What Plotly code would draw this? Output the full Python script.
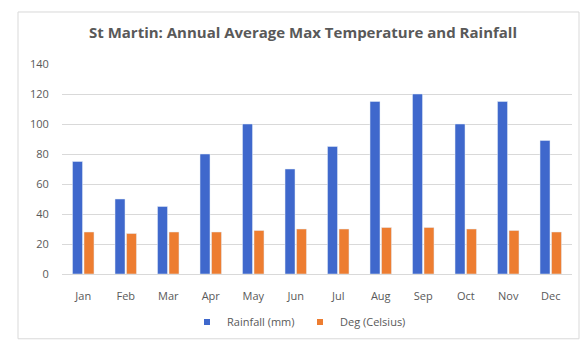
import plotly.graph_objects as go

months = ["Jan", "Feb", "Mar", "Apr", "May", "Jun", "Jul", "Aug", "Sep", "Oct", "Nov", "Dec"]
rainfall_mm = [75, 50, 45, 80, 100, 70, 85, 115, 120, 100, 115, 89]
temp_celsius = [28, 27, 28, 28, 29, 30, 30, 31, 31, 30, 29, 28]
y_ticks = [0, 20, 40, 60, 80, 100, 120, 140]

font_family = "Open Sans, Liberation Sans, sans-serif"
grey = "#595959"
blue = "#3F68CC"
orange = "#ED7D31"

# page body has an 8px margin; work in reference pixel coordinates minus 8
OFF = 8
W, H = 588 - 2 * OFF, 353 - 2 * OFF
L, T = 62 - OFF, 64 - OFF
R = W - (572 - OFF)
B = H - (278 - OFF)
pw, ph = W - L - R, H - T - B

def px(x):
    return (x - OFF - L) / pw

def py(y):
    return (H - B - (y - OFF)) / ph

fig = go.Figure()
fig.add_trace(go.Bar(x=months, y=rainfall_mm, name="Rainfall (mm)", marker_color=blue,
                     showlegend=False))
fig.add_trace(go.Bar(x=months, y=temp_celsius, name="Deg (Celsius)", marker_color=orange,
                     showlegend=False))
# legend entries with small square markers
fig.add_trace(go.Scatter(x=[None], y=[None], mode="markers", name="Rainfall (mm)",
                         marker=dict(symbol="square", size=6, color=blue)))
fig.add_trace(go.Scatter(x=[None], y=[None], mode="markers", name="Deg (Celsius)",
                         marker=dict(symbol="square", size=6, color=orange)))

fig.add_shape(type="rect", xref="paper", yref="paper",
              x0=px(18), x1=px(579), y0=py(344), y1=py(11),
              line=dict(color="#D9D9D9", width=1), fillcolor="rgba(0,0,0,0)", layer="below")

fig.update_layout(
    width=W, height=H,
    margin=dict(l=L, r=R, t=T, b=B),
    paper_bgcolor="white", plot_bgcolor="white",
    barmode="group", bargap=0.46, bargroupgap=0.13,
    title=dict(text="<b>St Martin: Annual Average Max Temperature and Rainfall</b>",
               x=(303 - OFF) / W, xanchor="center", y=1 - (33 - OFF) / H, yanchor="middle",
               font=dict(family=font_family, size=15, color=grey)),
    font=dict(family=font_family, color=grey, size=11),
    legend=dict(orientation="h", x=px(300), xanchor="center", y=py(327), yanchor="middle",
                font=dict(size=11, color=grey), itemwidth=30, traceorder="normal",
                entrywidth=68, entrywidthmode="pixels"),
    xaxis=dict(showgrid=False, showline=True, linecolor="#D9D9D9", linewidth=1,
               ticks="outside", ticklen=12, tickcolor="rgba(0,0,0,0)",
               tickfont=dict(size=11, color=grey)),
    yaxis=dict(range=[0, 140], tickvals=y_ticks, showgrid=True, gridcolor="#D9D9D9",
               zeroline=False, showline=False, ticks="outside", ticklen=10,
               tickcolor="rgba(0,0,0,0)", tickfont=dict(size=11, color=grey)),
)

fig.write_html("out.html")
